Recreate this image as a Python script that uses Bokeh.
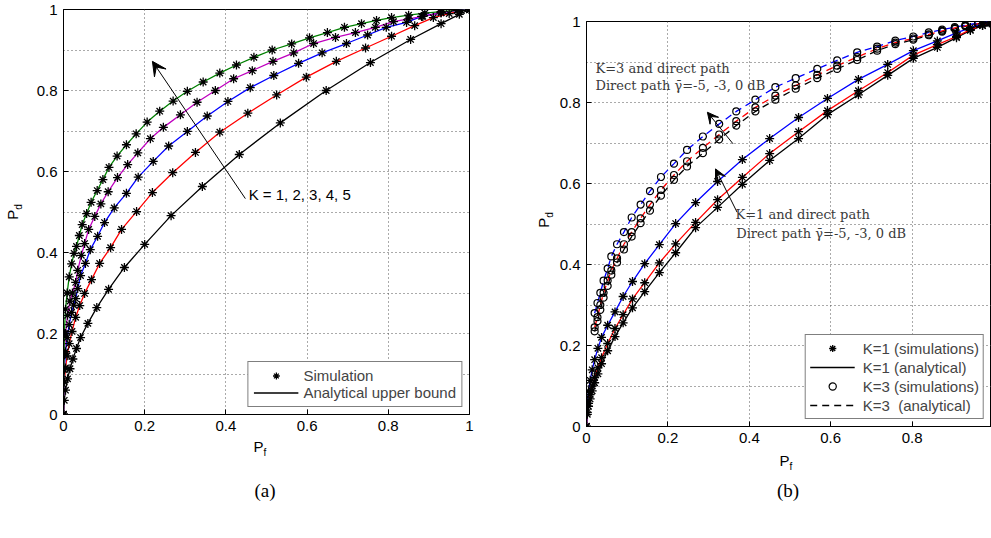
from bokeh.plotting import figure
from bokeh.layouts import row, column
from bokeh.models import FixedTicker, Legend, LegendItem, Arrow, VeeHead, Label, Div
from bokeh.embed import file_html
from bokeh.resources import INLINE

# ---------------- data ----------------
tick_vals = [0, 0.2, 0.4, 0.6, 0.8, 1]
tick_labels = ["0", "0.2", "0.4", "0.6", "0.8", "1"]
minor_vals = [0.1, 0.3, 0.5, 0.7, 0.9]

# (a) Pd vs Pf for K = 1..5
a_pf_k1 = [0, 0.002, 0.005, 0.01, 0.016, 0.023, 0.032, 0.042, 0.06, 0.082, 0.111, 0.15, 0.2, 0.265, 0.342,
           0.433, 0.534, 0.647, 0.756, 0.855, 0.93, 0.975, 1]
a_pd_k1 = [0, 0.035, 0.06, 0.088, 0.113, 0.137, 0.163, 0.19, 0.225, 0.264, 0.309, 0.363, 0.42, 0.491, 0.563,
           0.642, 0.72, 0.8, 0.869, 0.926, 0.965, 0.988, 1]
a_pf_k2 = [0, 0.002, 0.005, 0.009, 0.014, 0.021, 0.03, 0.04, 0.052, 0.069, 0.089, 0.116, 0.143, 0.18, 0.219,
           0.269, 0.325, 0.385, 0.454, 0.525, 0.598, 0.672, 0.744, 0.808, 0.865, 0.911, 0.95, 0.98, 1]
a_pd_k2 = [0, 0.08, 0.115, 0.145, 0.175, 0.205, 0.24, 0.269, 0.299, 0.333, 0.373, 0.412, 0.457, 0.501, 0.548,
           0.597, 0.647, 0.697, 0.744, 0.789, 0.833, 0.872, 0.905, 0.934, 0.96, 0.98, 0.99, 0.997, 1]
a_pf_k3 = [0, 0.002, 0.005, 0.009, 0.014, 0.02, 0.025, 0.03, 0.035, 0.042, 0.054, 0.066, 0.084, 0.101, 0.125,
           0.155, 0.184, 0.221, 0.259, 0.305, 0.354, 0.405, 0.46, 0.518, 0.579, 0.637, 0.697, 0.749, 0.795,
           0.845, 0.882, 0.93, 0.97, 1]
a_pd_k3 = [0, 0.11, 0.155, 0.19, 0.222, 0.252, 0.27, 0.286, 0.311, 0.343, 0.373, 0.407, 0.44, 0.474, 0.51,
           0.546, 0.586, 0.625, 0.663, 0.699, 0.737, 0.773, 0.807, 0.837, 0.867, 0.893, 0.916, 0.937, 0.956,
           0.968, 0.983, 0.992, 0.998, 1]
a_pf_k4 = [0, 0.002, 0.005, 0.01, 0.016, 0.022, 0.03, 0.035, 0.044, 0.052, 0.062, 0.077, 0.092, 0.11, 0.133,
           0.158, 0.183, 0.214, 0.246, 0.288, 0.329, 0.374, 0.419, 0.465, 0.516, 0.567, 0.616, 0.67, 0.719,
           0.768, 0.813, 0.85, 0.885, 0.93, 0.97, 1]
a_pd_k4 = [0, 0.15, 0.2, 0.245, 0.28, 0.3, 0.326, 0.356, 0.393, 0.422, 0.457, 0.489, 0.52, 0.55, 0.585,
           0.617, 0.646, 0.681, 0.709, 0.74, 0.771, 0.8, 0.829, 0.849, 0.872, 0.893, 0.916, 0.931, 0.943,
           0.956, 0.97, 0.977, 0.983, 0.992, 0.998, 1]
a_pf_k5 = [0, 0.002, 0.005, 0.009, 0.014, 0.02, 0.026, 0.032, 0.039, 0.046, 0.057, 0.068, 0.083, 0.097, 0.112,
           0.132, 0.155, 0.179, 0.206, 0.237, 0.27, 0.305, 0.344, 0.385, 0.426, 0.469, 0.514, 0.562, 0.606,
           0.65, 0.692, 0.734, 0.771, 0.808, 0.85, 0.89, 0.93, 0.97, 1]
a_pd_k5 = [0, 0.2, 0.26, 0.3, 0.34, 0.372, 0.398, 0.415, 0.442, 0.469, 0.496, 0.524, 0.553, 0.58, 0.61,
           0.638, 0.666, 0.693, 0.722, 0.749, 0.774, 0.798, 0.821, 0.843, 0.863, 0.882, 0.9, 0.915, 0.93,
           0.943, 0.956, 0.965, 0.973, 0.98, 0.986, 0.991, 0.995, 0.998, 1]
a_colors = ["#000000", "#ff0000", "#0000ff", "#bf00bf", "#008000"]

# (b) K=1 and K=3 with direct path, gamma = -5, -3, 0 dB
b_pf_k1 = [0, 0.002, 0.005, 0.009, 0.014, 0.02, 0.028, 0.037, 0.052, 0.07, 0.09, 0.113, 0.143, 0.179, 0.219,
           0.268, 0.322, 0.383, 0.45, 0.521, 0.592, 0.668, 0.74, 0.803, 0.862, 0.909, 0.943, 0.973, 0.99, 1]
b_pd_k1_m5 = [0, 0.03, 0.05, 0.068, 0.088, 0.108, 0.13, 0.155, 0.187, 0.222, 0.256, 0.293, 0.333, 0.38, 0.429,
              0.491, 0.541, 0.598, 0.657, 0.711, 0.77, 0.819, 0.867, 0.909, 0.936, 0.96, 0.978, 0.99, 0.997, 1]
b_pd_k1_m3 = [0, 0.035, 0.057, 0.079, 0.1, 0.121, 0.145, 0.17, 0.205, 0.242, 0.276, 0.315, 0.355, 0.404, 0.451,
              0.504, 0.56, 0.615, 0.674, 0.728, 0.78, 0.829, 0.874, 0.917, 0.943, 0.963, 0.98, 0.99, 0.997, 1]
b_pd_k1_0 = [0, 0.057, 0.087, 0.114, 0.14, 0.165, 0.193, 0.22, 0.25, 0.283, 0.321, 0.358, 0.402, 0.449, 0.501,
             0.553, 0.605, 0.659, 0.711, 0.763, 0.81, 0.857, 0.894, 0.928, 0.952, 0.972, 0.985, 0.994, 0.998, 1]
b_pf_k3 = [0.02, 0.027, 0.034, 0.042, 0.052, 0.061, 0.075, 0.092, 0.111, 0.133, 0.156, 0.183, 0.215, 0.247,
           0.286, 0.326, 0.368, 0.415, 0.464, 0.514, 0.567, 0.616, 0.665, 0.714, 0.759, 0.803, 0.841, 0.874,
           0.905, 0.931, 0.962, 0.984, 1]
b_pd_k3_0 = [0.28, 0.305, 0.33, 0.36, 0.39, 0.42, 0.45, 0.48, 0.516, 0.548, 0.581, 0.616, 0.649, 0.683, 0.716,
             0.747, 0.778, 0.807, 0.838, 0.86, 0.883, 0.904, 0.924, 0.938, 0.953, 0.963, 0.973, 0.98, 0.986,
             0.991, 0.996, 0.999, 1]
b_pd_k3_m3 = [0.245, 0.27, 0.3, 0.33, 0.36, 0.385, 0.415, 0.45, 0.48, 0.514, 0.548, 0.584, 0.621, 0.655, 0.688,
              0.721, 0.754, 0.788, 0.817, 0.842, 0.868, 0.891, 0.912, 0.933, 0.948, 0.958, 0.968, 0.977, 0.984,
              0.989, 0.995, 0.998, 1]
b_pd_k3_m5 = [0.235, 0.26, 0.288, 0.318, 0.347, 0.375, 0.405, 0.437, 0.469, 0.502, 0.533, 0.57, 0.609, 0.642,
              0.675, 0.709, 0.743, 0.778, 0.807, 0.834, 0.86, 0.883, 0.905, 0.928, 0.944, 0.955, 0.966, 0.975,
              0.982, 0.988, 0.994, 0.998, 1]

SANS = "Liberation Sans"
SERIF = "DejaVu Serif"


def style(p):
    p.xaxis.ticker = FixedTicker(ticks=tick_vals)
    p.yaxis.ticker = FixedTicker(ticks=tick_vals, minor_ticks=minor_vals)
    for ax in (p.xaxis[0], p.yaxis[0]):
        ax.major_label_overrides = dict(zip(tick_vals, tick_labels))
        ax.major_tick_in = 5
        ax.major_tick_out = 0
        ax.minor_tick_in = 0
        ax.minor_tick_out = 0
        ax.axis_line_color = "black"
        ax.major_tick_line_color = "black"
        ax.major_label_text_font = SANS
        ax.major_label_text_font_size = "15px"
        ax.major_label_text_color = "black"
        ax.major_label_standoff = 6
    for g in (p.xgrid[0], p.ygrid[0]):
        g.grid_line_color = "#555555"
        g.grid_line_dash = "1 3"
        g.grid_line_width = 1
    p.ygrid[0].minor_grid_line_color = "#555555"
    p.ygrid[0].minor_grid_line_dash = "1 3"
    p.outline_line_color = "black"
    p.outline_line_alpha = 1.0
    p.background_fill_color = "white"
    p.border_fill_color = "white"


def txt(p, x, y, s, font=SANS, size="15px", color="black"):
    p.add_layout(Label(x=x, y=y, text=s, text_font=font, text_font_size=size, text_align="left",
                       text_baseline="middle", text_color=color))


def span(x, y, html, font, size, rotate=False):
    rot = " rotate(-90deg)" if rotate else ""
    return ('<span style="position:absolute;left:%dpx;top:%dpx;transform:translate(-50%%,-50%%)%s;'
            'font-family:\'%s\';font-size:%s;color:#000;white-space:nowrap;line-height:1;">%s</span>'
            % (x, y, rot, font, size, html))


def box(w, h, inner):
    return Div(width=w, height=h, margin=0,
               text='<div style="position:relative;width:%dpx;height:%dpx;">%s</div>' % (w, h, inner))


PF = 'P<sub style="font-size:10px;">f</sub>'
PD = 'P<sub style="font-size:10px;">d</sub>'

# ---------------- (a) ----------------
p1 = figure(width=500, height=438, x_range=(0, 1), y_range=(0, 1), output_backend="svg",
            toolbar_location=None, min_border_left=33, min_border_right=61, min_border_top=9,
            min_border_bottom=24)
style(p1)
a_sets = [(a_pf_k1, a_pd_k1), (a_pf_k2, a_pd_k2), (a_pf_k3, a_pd_k3), (a_pf_k4, a_pd_k4), (a_pf_k5, a_pd_k5)]
a_lines, a_marks = [], []
for (xs, ys), c in zip(a_sets, a_colors):
    a_lines.append(p1.line(xs, ys, line_color=c, line_width=1.3))
for (xs, ys) in a_sets:
    a_marks.append(p1.scatter(xs, ys, marker="asterisk", size=9, line_color="black", line_width=1.3))

leg1 = Legend(items=[LegendItem(label="Simulation", renderers=[a_marks[0]]),
                     LegendItem(label="Analytical upper bound", renderers=[a_lines[0]])],
              location="bottom_right", margin=7, padding=5, spacing=0, glyph_width=45,
              glyph_height=17, label_height=17, label_standoff=5, label_text_font=SANS,
              label_text_font_size="15px", border_line_color="black", border_line_width=1,
              background_fill_alpha=1)
p1.add_layout(leg1)
p1.add_layout(Arrow(end=VeeHead(size=14, fill_color="black", line_color="black"),
                    x_start=0.448, y_start=0.533, x_end=0.219, y_end=0.872,
                    line_color="black", line_width=1))
txt(p1, 0.456, 0.543, "K = 1, 2, 3, 4, 5")

a_ylab = box(30, 538, span(14, 212, PD, SANS, "15px", rotate=True))
a_xlab = box(500, 100, span(230, 10, PF, SANS, "15px") + span(235, 52, "(a)", "Liberation Serif", "19px"))

# ---------------- (b) ----------------
p2 = figure(width=437, height=450, x_range=(0, 0.995), y_range=(0, 1), output_backend="svg",
            toolbar_location=None, min_border_left=32, min_border_right=0, min_border_top=21,
            min_border_bottom=24)
style(p2)
b_cols = ["#000000", "#ff0000", "#0000ff"]
k1_sets = [b_pd_k1_m5, b_pd_k1_m3, b_pd_k1_0]
k3_sets = [b_pd_k3_m5, b_pd_k3_m3, b_pd_k3_0]
k1_lines, k3_lines, k1_marks, k3_marks = [], [], [], []
for ys, c in zip(k1_sets, b_cols):
    k1_lines.append(p2.line(b_pf_k1, ys, line_color=c, line_width=1.3))
for ys, c in zip(k3_sets, b_cols):
    k3_lines.append(p2.line(b_pf_k3, ys, line_color=c, line_width=1.3, line_dash="7 5"))
for ys in k1_sets:
    k1_marks.append(p2.scatter(b_pf_k1, ys, marker="asterisk", size=9, line_color="black", line_width=1.3))
for ys in k3_sets:
    k3_marks.append(p2.scatter(b_pf_k3, ys, marker="circle", size=7, fill_color=None,
                               line_color="black", line_width=1.2))

leg2 = Legend(items=[LegendItem(label="K=1 (simulations)", renderers=[k1_marks[0]]),
                     LegendItem(label="K=1 (analytical)", renderers=[k1_lines[0]]),
                     LegendItem(label="K=3 (simulations)", renderers=[k3_marks[0]]),
                     LegendItem(label="K=3  (analytical)", renderers=[k3_lines[0]])],
              location="bottom_right", margin=7, padding=4, spacing=1, glyph_width=45,
              glyph_height=18, label_height=18, label_standoff=8, label_text_font=SANS,
              label_text_font_size="15px", border_line_color="black", border_line_width=1,
              background_fill_alpha=1)
p2.add_layout(leg2)
p2.add_layout(Arrow(end=VeeHead(size=11, fill_color="black", line_color="black"),
                    x_start=0.36, y_start=0.698, x_end=0.297, y_end=0.776,
                    line_color="black", line_width=1))
p2.add_layout(Arrow(end=VeeHead(size=11, fill_color="black", line_color="black"),
                    x_start=0.37, y_start=0.529, x_end=0.317, y_end=0.636,
                    line_color="black", line_width=1))
GRAY = "#3a3a3a"
txt(p2, 0.022, 0.883, "K=3 and direct path", font=SERIF, size="13px", color=GRAY)
txt(p2, 0.022, 0.842, "Direct path \u03b3\u0304=-5, -3, 0 dB", font=SERIF, size="13px", color=GRAY)
txt(p2, 0.366, 0.523, "K=1 and direct path", font=SERIF, size="13px", color=GRAY)
txt(p2, 0.368, 0.477, "Direct path \u03b3\u0304=-5, -3, 0 dB", font=SERIF, size="13px", color=GRAY)

b_ylab = box(24, 450, span(15, 220, PD, SANS, "15px", rotate=True))
b_xlab = box(437, 88, span(232, 12, PF, SANS, "15px") + span(234, 40, "(b)", "Liberation Serif", "19px"))

layout = row(a_ylab, column(p1, a_xlab), b_ylab, column(p2, b_xlab))
open("out.html", "w").write(file_html(layout, INLINE))
